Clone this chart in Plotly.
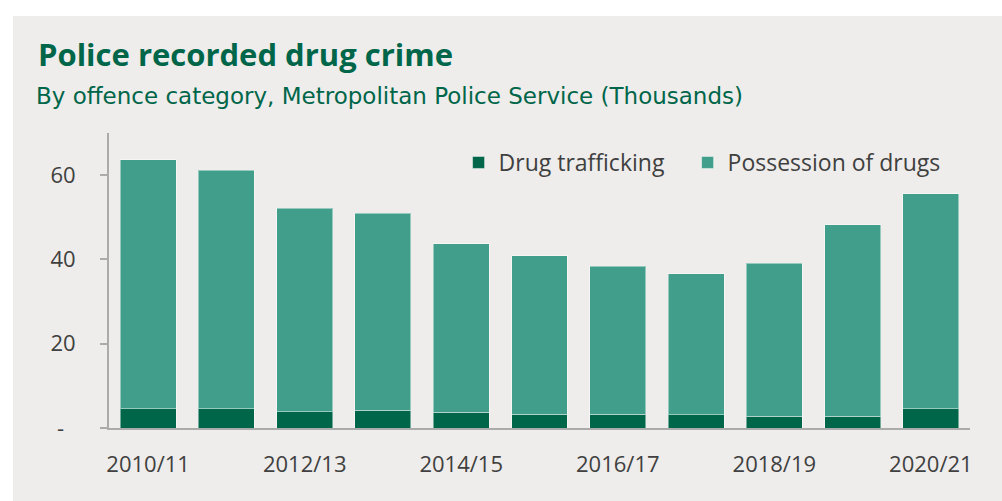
import plotly.graph_objects as go

# Financial years (Metropolitan Police Service), values in thousands
years = ["2010/11", "2011/12", "2012/13", "2013/14", "2014/15", "2015/16",
         "2016/17", "2017/18", "2018/19", "2019/20", "2020/21"]
trafficking = [4.6, 4.6, 3.9, 4.2, 3.7, 3.3, 3.3, 3.1, 2.8, 2.8, 4.6]
possession = [59.1, 56.6, 48.3, 46.7, 40.0, 37.6, 35.1, 33.5, 36.3, 45.4, 51.0]

x_tick_labels = ["2010/11", "2012/13", "2014/15", "2016/17", "2018/19", "2020/21"]
y_tick_values = [0, 20, 40, 60]
y_tick_labels = ["-\u00a0\u00a0", "20", "40", "60"]

DARK_GREEN = "#00664A"
MID_GREEN = "#409E8A"
BG = "#EEEDEB"
AXIS = "#ABABAB"
TEXT = "#404040"

fig = go.Figure()
fig.add_trace(go.Bar(
    name="Drug trafficking", x=years, y=trafficking, legend="legend",
    marker=dict(color=DARK_GREEN, line=dict(color="rgba(255,255,255,0.45)", width=1)),
))
fig.add_trace(go.Bar(
    name="Possession of drugs", x=years, y=possession, legend="legend2",
    marker=dict(color=MID_GREEN, line=dict(color="rgba(255,255,255,0.45)", width=1)),
))

legend_style = dict(
    orientation="h", xanchor="left", y=0.9, yanchor="middle",
    bgcolor="rgba(0,0,0,0)", font=dict(family="Open Sans", size=23, color=TEXT),
)

fig.update_layout(
    width=1002, height=501,
    barmode="stack", bargap=0.285,
    paper_bgcolor=BG, plot_bgcolor=BG,
    margin=dict(l=109, r=32, t=133, b=73),
    font=dict(family="Open Sans", size=22, color=TEXT),
    showlegend=True,
    legend=dict(x=0.406, **legend_style),
    legend2=dict(x=0.672, **legend_style),
    xaxis=dict(
        type="category", range=[-0.5, 10.5],
        tickmode="array", tickvals=x_tick_labels, ticktext=x_tick_labels,
        showline=True, linecolor=AXIS, linewidth=2, ticks="",
        showgrid=False, ticklabelstandoff=16,
        tickfont=dict(family="Open Sans", size=22, color=TEXT),
    ),
    yaxis=dict(
        range=[0, 70], tickmode="array", tickvals=y_tick_values, ticktext=y_tick_labels,
        showline=True, linecolor=AXIS, linewidth=2,
        ticks="outside", ticklen=7, tickwidth=2, tickcolor=AXIS,
        showgrid=False, zeroline=False, ticklabelstandoff=20,
        tickfont=dict(family="Open Sans", size=22, color=TEXT),
    ),
    shapes=[
        # white frame strips along the top and left edges
        dict(type="rect", xref="paper", yref="paper",
             x0=-109 / 861, x1=893 / 861, y0=1 + 117 / 295, y1=1 + 133 / 295,
             fillcolor="white", line=dict(width=0), layer="below"),
        dict(type="rect", xref="paper", yref="paper",
             x0=-109 / 861, x1=-96 / 861, y0=-73 / 295, y1=1 + 133 / 295,
             fillcolor="white", line=dict(width=0), layer="below"),
    ],
    annotations=[
        dict(text="<b>Police recorded drug crime</b>", xref="paper", yref="paper",
             x=-73 / 861, y=1 + 102 / 295, xanchor="left", yanchor="top", showarrow=False,
             font=dict(family="Open Sans", size=31, color=DARK_GREEN)),
        dict(text="By offence category, Metropolitan Police Service (Thousands)",
             xref="paper", yref="paper",
             x=-75 / 861, y=1 + 52.5 / 295, xanchor="left", yanchor="top", showarrow=False,
             font=dict(family="DejaVu Sans", size=23, color=DARK_GREEN)),
    ],
)

fig.write_html("out.html")
